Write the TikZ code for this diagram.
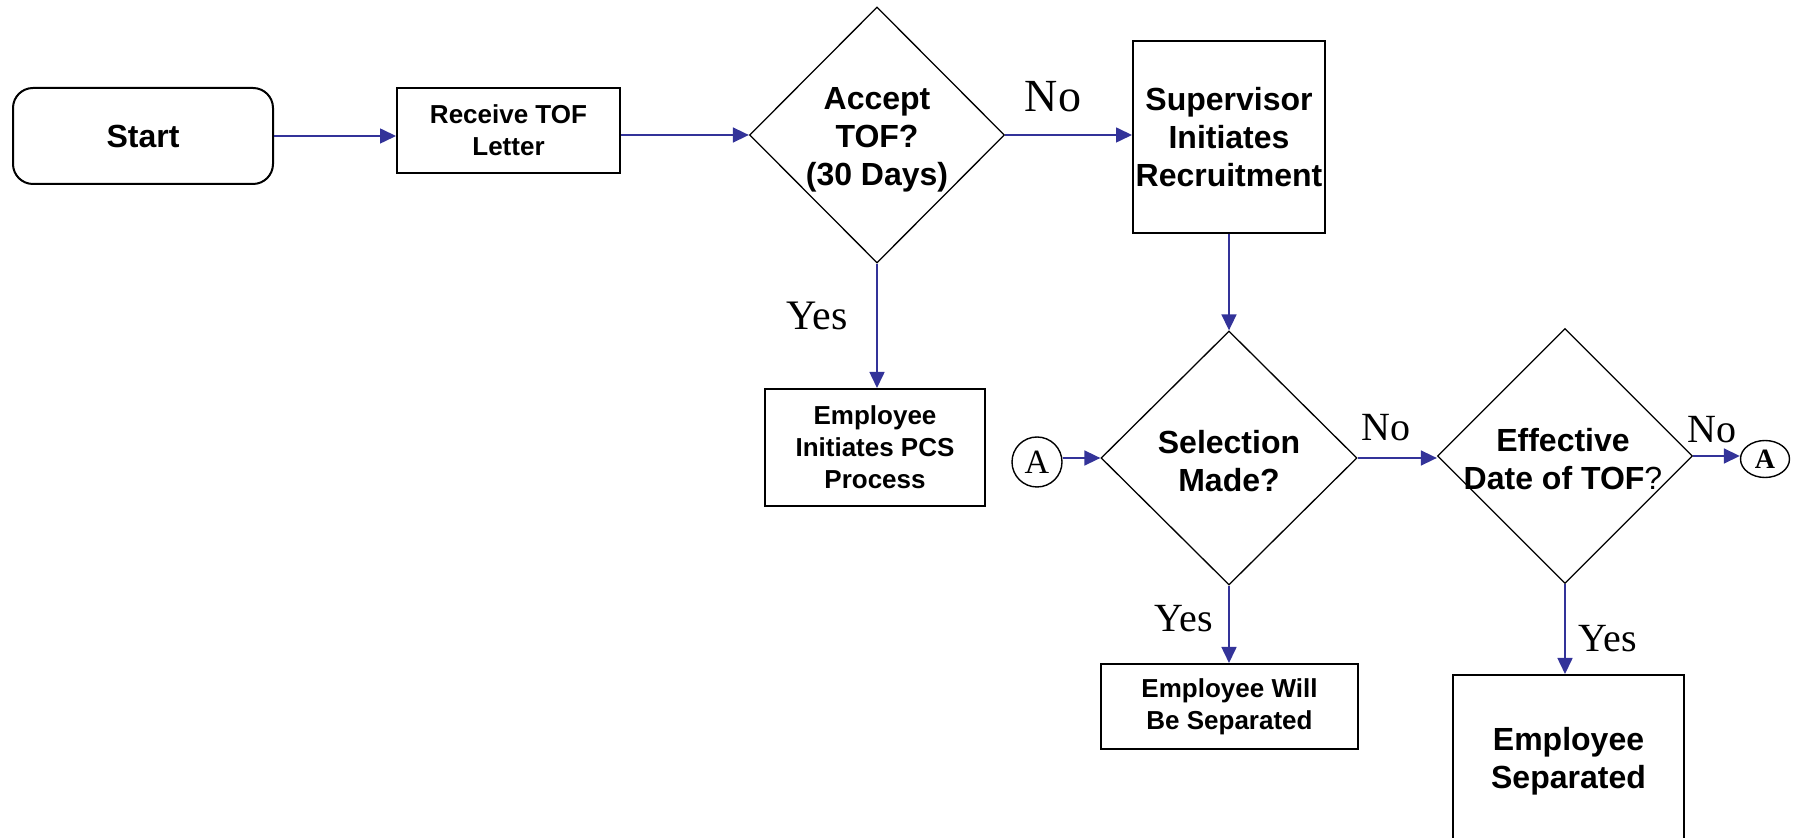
\documentclass[tikz,border=0pt]{standalone}
\usepackage{fontspec}
\setmainfont{Liberation Serif}
\setsansfont{Liberation Sans}
\usetikzlibrary{shapes.geometric,arrows.meta}
\definecolor{flowblue}{RGB}{51,51,153}

\begin{document}
\begin{tikzpicture}[x=0.5pt,y=-0.5pt,
  box/.style={draw,line width=1pt,inner sep=0pt,align=center},
  big/.style={align=center,font=\sffamily\bfseries\fontsize{16}{19}\selectfont},
  small/.style={align=center,font=\sffamily\bfseries\fontsize{13}{16}\selectfont},
  dec/.style={draw,diamond,line width=0.65pt,inner sep=0pt},
  flow/.style={flowblue,line width=0.8pt,-{Triangle[length=8pt,width=7.5pt]}},
  yn/.style={anchor=base,font=\fontsize{20}{24}\selectfont}]
  \useasboundingbox (0,0) rectangle (1799,838);
  \node[box,big,rounded corners=10pt,minimum width=130pt,minimum height=48pt] (start) at (143,136) {Start};
  \node[box,small,minimum width=111.5pt,minimum height=42.5pt] (receive) at (508.5,130.5) {Receive TOF\\Letter};
  \node[dec,minimum width=127.5pt,minimum height=128pt] (accept) at (877,135) {};
  \node[big] (accepttxt) at (877,140) {Accept\\TOF?\\(30 Days)};
  \node[box,big,minimum width=96pt,minimum height=96pt] (super) at (1229,137) {Supervisor\\Initiates\\Recruitment};
  \node[box,small,minimum width=110pt,minimum height=58.5pt] (pcs) at (875,447.5) {Employee\\Initiates PCS\\Process};
  \node[dec,minimum width=128pt,minimum height=127pt] (sel) at (1229,458) {};
  \node[big] (seltxt) at (1229,461) {Selection\\Made?};
  \node[dec,minimum width=127.5pt,minimum height=127.5pt] (eff) at (1565,456) {};
  \node[big] (efftxt) at (1563,459) {Effective\\Date of TOF{\mdseries ?}};
  \node[circle,draw,line width=0.7pt,minimum size=25pt,inner sep=0pt,font=\fontsize{17}{17}\selectfont] (ain) at (1037,462) {A};
  \node[ellipse,draw,line width=0.7pt,minimum width=24.5pt,minimum height=18.5pt,inner sep=0pt,font=\bfseries\fontsize{14}{14}\selectfont] (aout) at (1765,459) {A};
  \node[box,small,minimum width=128.5pt,minimum height=42.5pt] (will) at (1229.5,706.5) {Employee Will\\Be Separated};
  \node[box,big,minimum width=115.5pt,minimum height=86pt] (sep) at (1568.5,761) {Employee\\Separated};
  \draw[flow] (start.east) -- (start.east -| receive.west);
  \draw[flow] (accept.west -| receive.east) -- (accept.west);
  \draw[flow] (accept.east) -- (accept.east -| super.west);
  \draw[flow] (accept.south) -- (accept.south |- pcs.north);
  \draw[flow] (super.south) -- (sel.north);
  \draw[flow] (ain.east |- sel.west) -- (sel.west);
  \draw[flow] (sel.east) -- (sel.east -| eff.west);
  \draw[flow] (eff.east) -- (eff.east -| aout.west);
  \draw[flow] (sel.south) -- (sel.south |- will.north);
  \draw[flow] (eff.south) -- (eff.south |- sep.north);
  \node[yn,font=\fontsize{23}{23}\selectfont] (no1) at (1053,112) {No};
  \node[yn,font=\fontsize{21}{21}\selectfont] (yes1) at (817,330) {Yes};
  \node[yn] (no2) at (1386,441) {No};
  \node[yn] (no3) at (1712,443) {No};
  \node[yn] (yes2) at (1184,632) {Yes};
  \node[yn] (yes3) at (1608,652) {Yes};
\end{tikzpicture}
\end{document}
